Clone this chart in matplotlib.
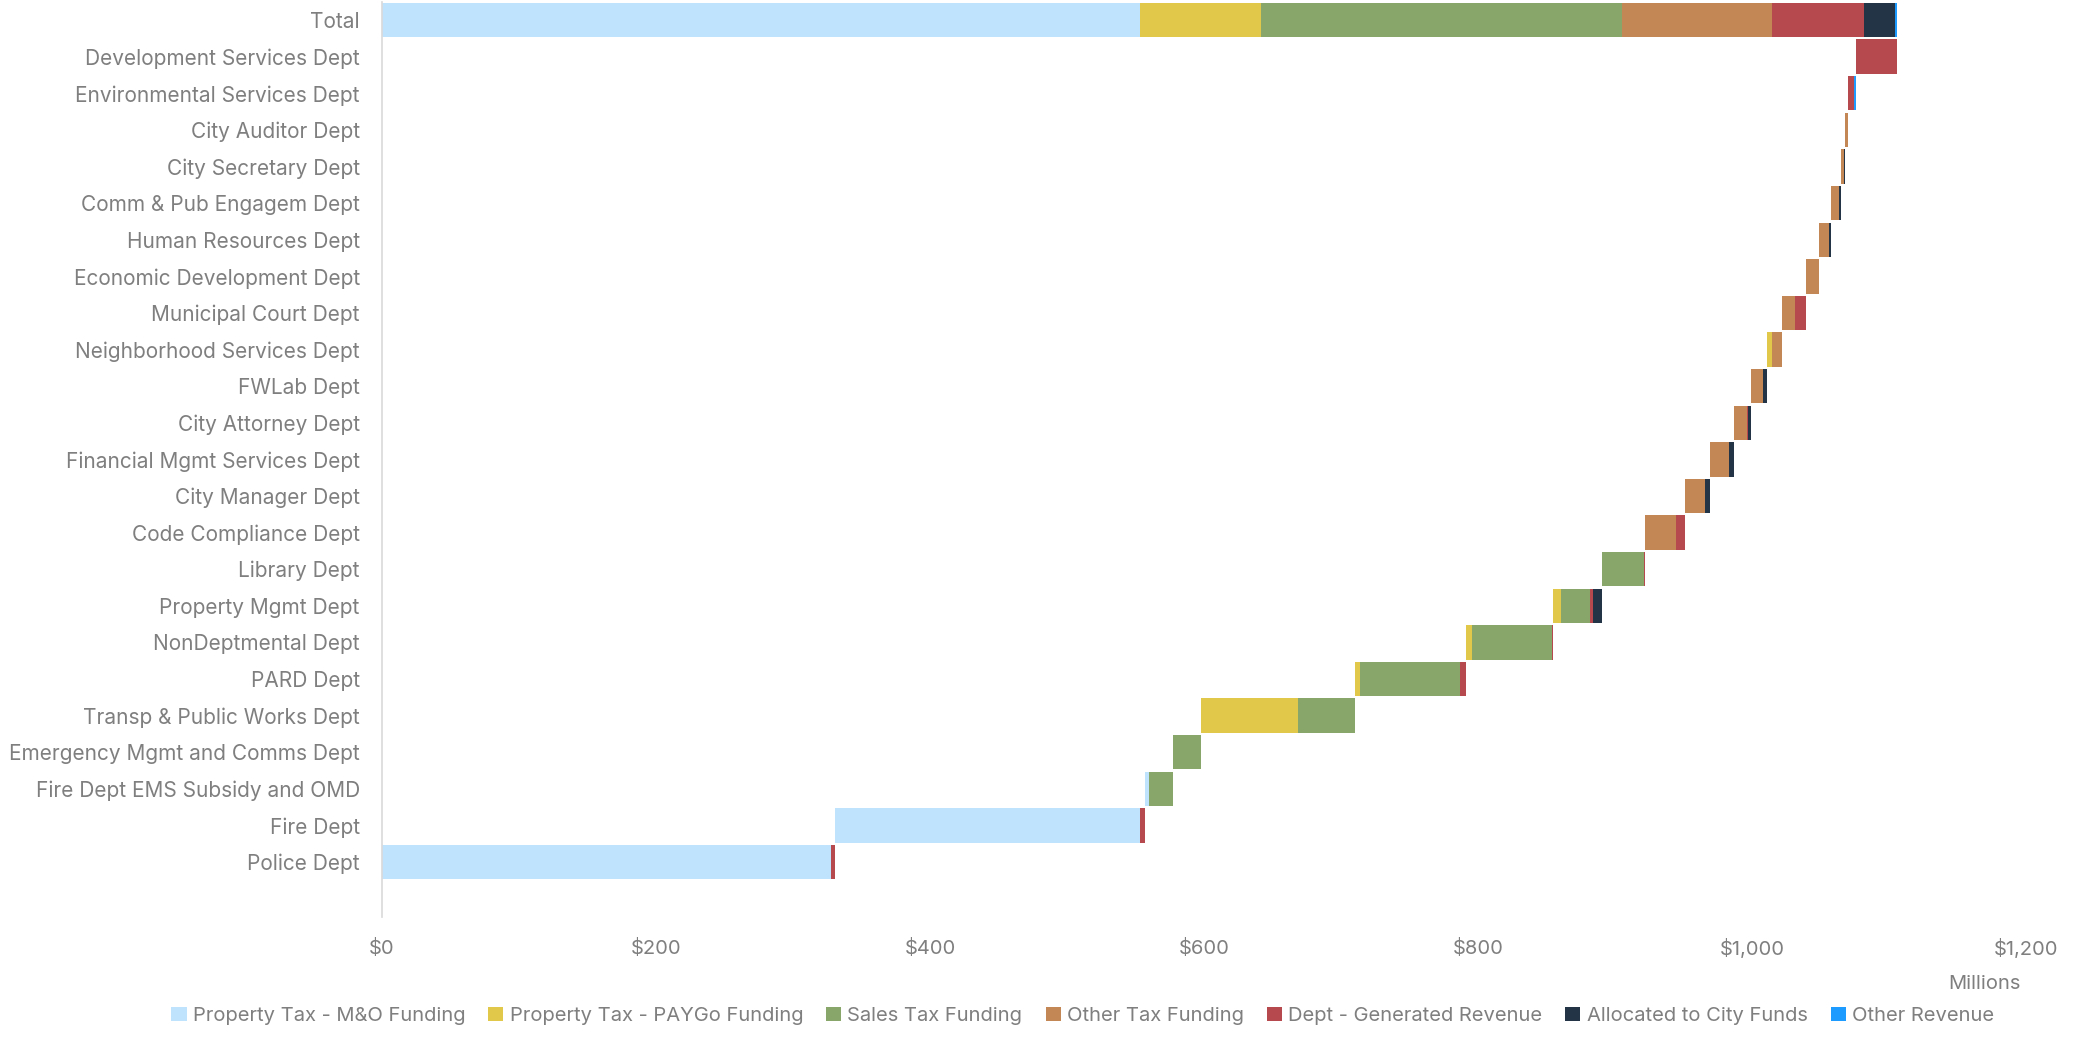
import numpy as np
import matplotlib
matplotlib.use('Agg')
import matplotlib.pyplot as plt
from matplotlib.patches import Patch
from matplotlib.ticker import FuncFormatter

plt.rcParams['font.family'] = ['Inter', 'DejaVu Sans']

# departments, bottom of the chart first
depts = ['Police Dept', 'Fire Dept', 'Fire Dept EMS Subsidy and OMD',
         'Emergency Mgmt and Comms Dept', 'Transp & Public Works Dept', 'PARD Dept',
         'NonDeptmental Dept', 'Property Mgmt Dept', 'Library Dept',
         'Code Compliance Dept', 'City Manager Dept', 'Financial Mgmt Services Dept',
         'City Attorney Dept', 'FWLab Dept', 'Neighborhood Services Dept',
         'Municipal Court Dept', 'Economic Development Dept', 'Human Resources Dept',
         'Comm & Pub Engagem Dept', 'City Secretary Dept', 'City Auditor Dept',
         'Environmental Services Dept', 'Development Services Dept']

sources = ['Property Tax - M&O Funding', 'Property Tax - PAYGo Funding',
           'Sales Tax Funding', 'Other Tax Funding', 'Dept - Generated Revenue',
           'Allocated to City Funds', 'Other Revenue']
colors = ['#BFE3FD', '#E1C84A', '#88A56A', '#C38755', '#B5494E', '#233447', '#1E9BFF']

# values in millions, same order as depts
prop_tax_mo = [327.4, 223.0, 2.8, 0, 0, 0, 0, 0, 0, 0, 0, 0, 0, 0, 0, 0, 0, 0, 0, 0, 0, 0, 0]
prop_tax_paygo = [0, 0, 0, 0, 70.6, 3.7, 4.4, 5.5, 0, 0, 0, 0, 0, 0, 4.2, 0, 0, 0, 0, 0, 0, 0, 0]
sales_tax = [0, 0, 17.3, 20.9, 41.6, 73.2, 58.5, 21.4, 30.5, 0, 0, 0, 0, 0, 0, 0, 0, 0, 0, 0, 0, 0, 0]
other_tax = [0, 0, 0, 0, 0, 0, 0, 0, 0, 22.9, 15.0, 13.6, 9.7, 9.0, 7.3, 9.3, 9.2, 7.3, 5.8, 2.2, 2.0, 0, 0]
dept_revenue = [2.9, 3.7, 0, 0, 0, 4.1, 0.9, 2.0, 0.6, 6.1, 0, 0.3, 0.7, 0, 0, 8.3, 0, 0, 0, 0, 0, 4.0, 30.4]
allocated = [0, 0, 0, 0, 0, 0, 0, 7.0, 0, 0, 3.4, 3.4, 2.2, 2.4, 0, 0, 0, 1.5, 1.4, 0.7, 0, 0, 0]
other_revenue = [0, 0, 0, 0, 0, 0, 0, 0, 0, 0, 0, 0, 0, 0, 0, 0, 0, 0, 0, 0, 0.4, 1.4, 0]

# the Total row
total_values = [553.1, 88.8, 263.0, 110.1, 66.6, 22.6, 1.7]

series = np.array([prop_tax_mo, prop_tax_paygo, sales_tax, other_tax,
                   dept_revenue, allocated, other_revenue])

# waterfall: every department starts where the one below it ends
dept_totals = series.sum(axis=0)
starts = np.concatenate([[0], np.cumsum(dept_totals)[:-1]])

labels = ['Total'] + depts[::-1]
ypos = {lab: i for i, lab in enumerate(labels)}

fig = plt.figure(figsize=(20.8, 10.37), dpi=100)
ax = fig.add_axes([0.1837, 0.1157, 0.7903, 0.8826])

bar_h = 0.94
text_col = '#7F7F7F'

# total bar
left = 0
for k in range(len(sources)):
    ax.barh(0, total_values[k], left=left, height=bar_h, color=colors[k], lw=0)
    left += total_values[k]

# department bars
for j, d in enumerate(depts):
    left = starts[j]
    for k in range(len(sources)):
        v = series[k, j]
        if v > 0:
            ax.barh(ypos[d], v, left=left, height=bar_h, color=colors[k], lw=0)
            left += v

ax.set_yticks(range(len(labels)))
ax.set_yticklabels(labels, fontsize=15, color=text_col)
ax.set_ylim(24.5, -0.5)
ax.set_xlim(0, 1200)
ax.set_xticks(np.arange(0, 1201, 200))
ax.xaxis.set_major_formatter(FuncFormatter(lambda x, p: '${:,.0f}'.format(x)))
ax.tick_params(axis='x', labelsize=14.5, colors=text_col, length=0, pad=16)
ax.tick_params(axis='y', length=0, pad=16)

for s in ['top', 'right', 'bottom']:
    ax.spines[s].set_visible(False)
ax.spines['left'].set_color('#D9D9D9')
ax.spines['left'].set_linewidth(1.2)

fig.text(0.954, 0.051, 'Millions', fontsize=14.5, color=text_col, ha='center', va='center')

handles = [Patch(facecolor=c, edgecolor='none') for c in colors]
fig.legend(handles, sources, loc='center', bbox_to_anchor=(0.5205, 0.0205), ncol=7,
           frameon=False, fontsize=14.5, labelcolor=text_col, handlelength=0.75,
           handleheight=0.75, handletextpad=0.3, columnspacing=1.15)

fig.savefig('out.png', dpi=100)
